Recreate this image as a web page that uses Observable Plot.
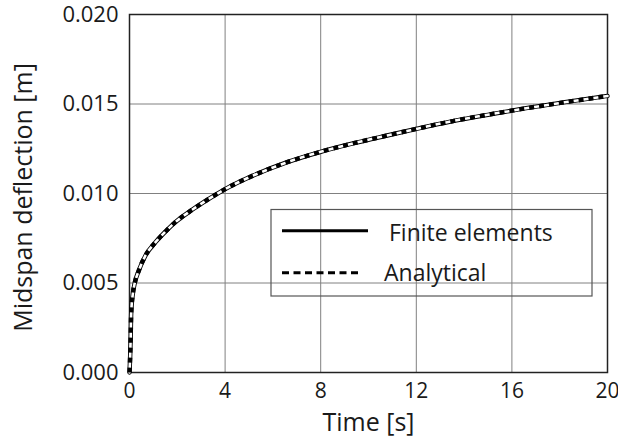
<!DOCTYPE html>
<html><head><meta charset="utf-8">
<script src="https://cdn.jsdelivr.net/npm/d3@7"></script>
<script src="https://cdn.jsdelivr.net/npm/@observablehq/plot@0.6"></script>
<style>
body{margin:0;background:#fff;}
#wrap{width:618px;height:444px;font-family:"Open Sans",sans-serif;}
</style>
</head><body><div id="wrap"></div>
<script>
const time = [0, 0.03, 0.05, 0.07, 0.14, 0.22, 0.39, 0.67, 1.09, 1.51, 1.92, 2.62, 3.32, 4.02, 5.2, 6.6, 8, 9.39, 10.78, 12.04, 13.43, 16.05, 20];
const finiteElements = [0, 0.0010, 0.0020, 0.0033, 0.0044, 0.0050, 0.0057, 0.00654, 0.00728, 0.00788, 0.0084, 0.00909, 0.0097, 0.01026, 0.01102, 0.01175, 0.01233, 0.01281, 0.01324, 0.01362, 0.01402, 0.01464, 0.01545];
const analytical = [0, 0.0010, 0.0020, 0.0033, 0.0044, 0.0050, 0.0057, 0.00654, 0.00728, 0.00788, 0.0084, 0.00909, 0.0097, 0.01026, 0.01102, 0.01175, 0.01233, 0.01281, 0.01324, 0.01362, 0.01402, 0.01464, 0.01545];
const xTicks = [0, 4, 8, 12, 16, 20];
const yTicks = [0, 0.005, 0.010, 0.015, 0.020];
const seriesNames = ["Finite elements", "Analytical"];
const xTitle = "Time [s]";
const yTitle = "Midspan deflection [m]";

const data = time.map((t, i) => ({t, fe: finiteElements[i], an: analytical[i]}));
const curve = "monotone-x";

const chart = Plot.plot({
  width: 618, height: 444,
  marginLeft: 129, marginRight: 11, marginTop: 14, marginBottom: 72,
  style: {fontFamily: '"Open Sans", sans-serif', fontSize: "22px", color: "#1a1a1a", background: "#fff", overflow: "visible"},
  x: {domain: [0, 20]},
  y: {domain: [0, 0.02]},
  marks: [
    Plot.gridX(xTicks, {stroke: "#808080", strokeOpacity: 1, strokeWidth: 1}),
    Plot.gridY(yTicks, {stroke: "#808080", strokeOpacity: 1, strokeWidth: 1}),
    Plot.frame({stroke: "#222", strokeWidth: 1.5}),
    Plot.line(data, {x: "t", y: "fe", stroke: "#000", strokeWidth: 4.4, curve}),
    Plot.line(data, {x: "t", y: "an", stroke: "#fff", strokeWidth: 2.6, curve}),
    Plot.line(data, {x: "t", y: "an", stroke: "#000", strokeWidth: 4.4, strokeDasharray: "5,5", strokeLinecap: "butt", curve}),
    Plot.axisX({ticks: xTicks, tickSize: 0, tickPadding: 11, label: null, fontSize: 21}),
    Plot.axisY({ticks: yTicks, tickSize: 0, tickPadding: 11, tickFormat: d3.format(".3f"), label: null, fontSize: 22}),
    Plot.text([xTitle], {frameAnchor: "bottom", dy: 58, fontSize: 25, fill: "#1a1a1a"}),
    Plot.text([yTitle], {frameAnchor: "left", textAnchor: "middle", rotate: -90, dx: -106, dy: 4, fontSize: 25, fill: "#1a1a1a"})
  ]
});

// legend (inside the plot area, transparent box)
const svg = d3.select(chart);
const lg = svg.append("g").attr("font-family", '"Open Sans", sans-serif').attr("font-size", 23).attr("fill", "#1a1a1a").attr("text-anchor", "start");
lg.append("rect").attr("x", 271).attr("y", 209.5).attr("width", 321).attr("height", 86.5)
  .attr("fill", "none").attr("stroke", "#555").attr("stroke-width", 1.2);
lg.append("line").attr("x1", 282).attr("x2", 368).attr("y1", 230.7).attr("y2", 230.7)
  .attr("stroke", "#000").attr("stroke-width", 3);
lg.append("line").attr("x1", 282).attr("x2", 362).attr("y1", 272.7).attr("y2", 272.7)
  .attr("stroke", "#000").attr("stroke-width", 3).attr("stroke-dasharray", "7,4.5");
lg.append("text").attr("x", 389).attr("y", 240.5).attr("text-anchor", "start").text(seriesNames[0]);
lg.append("text").attr("x", 384).attr("y", 281).attr("text-anchor", "start").text(seriesNames[1]);

document.getElementById("wrap").appendChild(chart);
</script>
</body></html>
